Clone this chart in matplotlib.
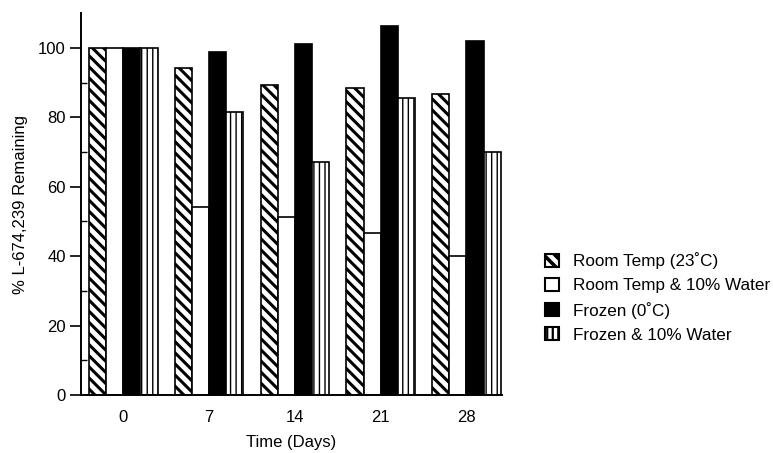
"""
L-674,239 stability: % remaining vs time, four storage conditions
"""

import matplotlib.pyplot as plt
import numpy as np

plt.rcParams['font.family'] = ['Liberation Sans', 'DejaVu Sans']
plt.rcParams['hatch.color'] = 'black'

# data
days = ['0', '7', '14', '21', '28']
room_temp = [100, 94.2, 89.4, 88.5, 86.7]
room_temp_water = [100, 54.2, 51.2, 46.7, 40.0]
frozen = [100, 98.7, 101.1, 106.2, 102.0]
frozen_water = [100, 81.5, 67.1, 85.5, 70.0]

labels = ['Room Temp (23˚C)', 'Room Temp & 10% Water',
          'Frozen (0˚C)', 'Frozen & 10% Water']


def main():
    fig = plt.figure(figsize=(7.73, 4.53), dpi=100)
    ax = fig.add_axes([0.105, 0.128, 0.544, 0.843])

    x = np.arange(len(days))
    w = 0.2
    series = [room_temp, room_temp_water, frozen, frozen_water]
    styles = [
        dict(facecolor='white', hatch='\\\\\\'),
        dict(facecolor='white', hatch=None),
        dict(facecolor='black', hatch=None),
        dict(facecolor='white', hatch='|||'),
    ]
    hatch_lw = [2.2, 1.0, 1.0, 1.0]
    handles = []
    for i, (vals, st) in enumerate(zip(series, styles)):
        plt.rcParams['hatch.linewidth'] = hatch_lw[i]
        bars = ax.bar(x + (i - 1.5) * w, vals, width=w, edgecolor='black',
                      linewidth=1.2, label=labels[i], **st)
        handles.append(bars)

    ax.set_xlim(-0.49, 4.41)
    ax.set_ylim(0, 110)
    ax.set_xticks(x)
    ax.set_xticklabels(days)
    ax.set_yticks([0, 20, 40, 60, 80, 100])
    ax.set_yticks([10, 30, 50, 70, 90], minor=True)
    ax.tick_params(axis='x', length=0, pad=11, labelsize=12)
    ax.tick_params(axis='y', which='major', length=8, width=1.2, labelsize=12, pad=3)
    ax.tick_params(axis='y', which='minor', length=4, width=1, direction='in')

    for s in ['top', 'right']:
        ax.spines[s].set_visible(False)
    ax.spines['left'].set_linewidth(1.4)
    ax.spines['bottom'].set_linewidth(1.4)

    ax.set_xlabel('Time (Days)', fontsize=12, labelpad=7)
    ax.set_ylabel('% L-674,239 Remaining', fontsize=12, labelpad=7)

    leg = fig.legend(handles=handles, labels=labels, loc='center left',
                     bbox_to_anchor=(0.685, 0.343), frameon=False, fontsize=12.3,
                     handlelength=0.8, handleheight=0.8, handletextpad=0.85,
                     labelspacing=0.5)
    # legend swatches: thicker hatch like the original
    for patch, lw in zip(leg.get_patches(), [2.6, 1.0, 1.0, 1.6]):
        patch.set_hatch_linewidth(lw)
        patch.set_linewidth(1.5)

    plt.savefig('out.png', dpi=100)


if __name__ == '__main__':
    main()
